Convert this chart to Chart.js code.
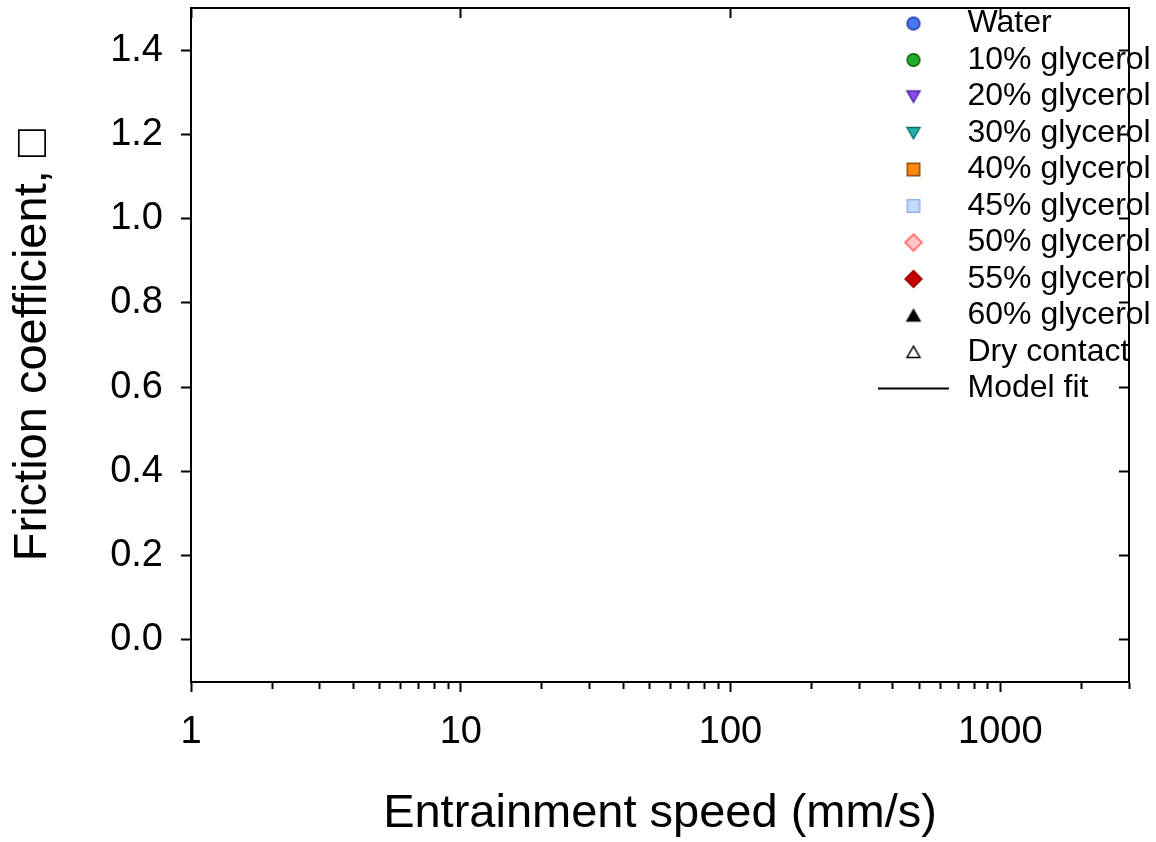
<!DOCTYPE html>
<html>
<head>
<meta charset="utf-8">
<script src="https://cdn.jsdelivr.net/npm/chart.js@4"></script>
<style>
  html, body { margin: 0; padding: 0; background: #fff; }
  #wrap { width: 1156px; height: 842px; }
</style>
</head>
<body>
<div id="wrap"><canvas id="frictionChart"></canvas></div>
<script>
// series shown in the legend (no measured points are plotted in this figure)
var seriesNames = ['Water', '10% glycerol', '20% glycerol', '30% glycerol', '40% glycerol',
  '45% glycerol', '50% glycerol', '55% glycerol', '60% glycerol', 'Dry contact', 'Model fit'];
var waterData = [];
var gly10Data = [];
var gly20Data = [];
var gly30Data = [];
var gly40Data = [];
var gly45Data = [];
var gly50Data = [];
var gly55Data = [];
var gly60Data = [];
var dryData = [];
var modelFitData = [];

// axis ticks
var xMajorTicks = [1, 10, 100, 1000];
var xMinorTicks = [2, 3, 4, 5, 6, 7, 8, 9, 20, 30, 40, 50, 60, 70, 80, 90,
  200, 300, 400, 500, 600, 700, 800, 900, 2000, 3000];
var yTicks = [0, 0.2, 0.4, 0.6, 0.8, 1.0, 1.2, 1.4];

// marker look per series
var markerShapes = ['circle', 'circle', 'triDown', 'triDown', 'square', 'square', 'diamond', 'diamond', 'triUp', 'triUp', 'line'];
var markerFills = ['#4a78f2', '#1fae2a', '#8a4cf0', '#1fb2ae', '#ff8a10', '#c2dcff', '#ffc4c4', '#c40000', '#000000', '#ffffff', '#000000'];
var markerEdges = ['#1c33a8', '#0b5a12', '#4a1f9e', '#0d6d6a', '#8a4a14', '#8fb2f0', '#ff5a5a', '#9a0000', '#000000', '#000000', '#000000'];

function makeMarker(shape, fill, edge) {
  var c = document.createElement('canvas');
  if (shape === 'line') { c.width = 71; c.height = 4; } else { c.width = 20; c.height = 20; }
  var g = c.getContext('2d');
  g.fillStyle = fill;
  g.strokeStyle = edge;
  g.lineWidth = 1.5;
  g.beginPath();
  if (shape === 'circle') {
    g.arc(10, 10, 6.3, 0, Math.PI * 2);
  } else if (shape === 'square') {
    g.rect(3.8, 3.8, 12.4, 12.4);
  } else if (shape === 'triDown') {
    g.moveTo(3.5, 4.5); g.lineTo(16.5, 4.5); g.lineTo(10, 15.8); g.closePath();
  } else if (shape === 'triUp') {
    g.moveTo(3.5, 15.5); g.lineTo(16.5, 15.5); g.lineTo(10, 4.2); g.closePath();
  } else if (shape === 'diamond') {
    g.moveTo(10, 1.6); g.lineTo(18.4, 10); g.lineTo(10, 18.4); g.lineTo(1.6, 10); g.closePath();
  } else if (shape === 'line') {
    g.lineWidth = 2;
    g.moveTo(0, 2); g.lineTo(71, 2);
    g.stroke();
    return c;
  }
  g.fill();
  g.stroke();
  return c;
}

var allData = [waterData, gly10Data, gly20Data, gly30Data, gly40Data, gly45Data,
  gly50Data, gly55Data, gly60Data, dryData, modelFitData];

var datasets = seriesNames.map(function (name, i) {
  return {
    label: name,
    data: allData[i],
    type: markerShapes[i] === 'line' ? 'line' : 'scatter',
    showLine: markerShapes[i] === 'line',
    borderColor: markerEdges[i],
    backgroundColor: markerFills[i],
    pointStyle: makeMarker(markerShapes[i], markerFills[i], markerEdges[i]),
  };
});

var FONT = "'Liberation Sans', Arial, sans-serif";

// put the legend inside the plot, top right
var legendInside = {
  id: 'legendInside',
  afterLayout: function (chart) {
    var lg = chart.legend, a = chart.chartArea;
    if (!lg) return;
    var w = lg.width, h = lg.height;
    lg.left = a.right - 258;
    lg.top = a.top - 5;
    lg.right = lg.left + w;
    lg.bottom = lg.top + h;
  },
};

var isMajor = function (v) { return xMajorTicks.indexOf(v) >= 0; };

new Chart(document.getElementById('frictionChart'), {
  type: 'scatter',
  data: { datasets: datasets },
  options: {
    responsive: true,
    maintainAspectRatio: false,
    animation: false,
    layout: { padding: { top: 8, right: 27, left: 0, bottom: 0 } },
    plugins: {
      tooltip: { enabled: false },
      legend: {
        position: 'chartArea',
        align: 'start',
        labels: {
          usePointStyle: true,
          pointStyleWidth: 76,
          boxHeight: 20,
          padding: 4.5,
          color: '#000',
          font: { family: FONT, size: 32 },
          generateLabels: function (chart) {
            return chart.data.datasets.map(function (ds, i) {
              return {
                text: ds.label,
                pointStyle: ds.pointStyle,
                fillStyle: 'rgba(0,0,0,0)',
                strokeStyle: 'rgba(0,0,0,0)',
                lineWidth: 0,
                hidden: false,
                datasetIndex: i,
                fontColor: '#000',
              };
            });
          },
        },
      },
    },
    scales: {
      x: {
        type: 'logarithmic',
        position: 'bottom',
        min: 1,
        max: 3000,
        afterBuildTicks: function (s) {
          s.ticks = xMajorTicks.concat(xMinorTicks).sort(function (a, b) { return a - b; })
            .map(function (v) { return { value: v, major: isMajor(v) }; });
        },
        afterFit: function (s) { s.height = 160; s.paddingLeft = 0; s.paddingRight = 0; },
        ticks: {
          autoSkip: false,
          maxRotation: 0,
          padding: 18,
          color: '#000',
          font: { family: FONT, size: 38 },
          callback: function (v) { return isMajor(v) ? String(v) : ''; },
        },
        grid: {
          drawOnChartArea: false,
          tickLength: 10,
          tickWidth: 2,
          tickColor: '#000',
          tickBorderDash: function (ctx) { return ctx.tick && isMajor(ctx.tick.value) ? [] : [6, 40]; },
        },
        border: { color: '#000', width: 2 },
        title: {
          display: true,
          text: 'Entrainment speed (mm/s)',
          color: '#000',
          font: { family: FONT, size: 47 },
          padding: { top: 0, bottom: 0 },
        },
      },
      x2: {
        type: 'logarithmic',
        position: 'top',
        display: true,
        min: 1,
        max: 3000,
        afterBuildTicks: function (s) { s.ticks = xMajorTicks.map(function (v) { return { value: v }; }); },
        afterFit: function (s) { s.height = 0; s.paddingLeft = 0; s.paddingRight = 0; },
        ticks: { display: false },
        grid: { drawOnChartArea: false, tickLength: -10, tickWidth: 2, tickColor: '#000' },
        border: { color: '#000', width: 2 },
      },
      y: {
        type: 'linear',
        position: 'left',
        min: -0.1,
        max: 1.5,
        afterBuildTicks: function (s) { s.ticks = yTicks.map(function (v) { return { value: v }; }); },
        afterFit: function (s) { s.width = 191; s.paddingTop = 0; s.paddingBottom = 0; },
        ticks: {
          padding: 18,
          color: '#000',
          font: { family: FONT, size: 38 },
          callback: function (v) { return Number(v).toFixed(1); },
        },
        grid: { drawOnChartArea: false, tickLength: 10, tickWidth: 2, tickColor: '#000' },
        border: { color: '#000', width: 2 },
        title: {
          display: true,
          text: 'Friction coefficient, \u25A1',
          color: '#000',
          font: { family: FONT, size: 47 },
          padding: { top: 5, bottom: 0 },
        },
      },
      y2: {
        type: 'linear',
        position: 'right',
        display: true,
        min: -0.1,
        max: 1.5,
        afterBuildTicks: function (s) { s.ticks = yTicks.map(function (v) { return { value: v }; }); },
        afterFit: function (s) { s.width = 0; s.paddingTop = 0; s.paddingBottom = 0; },
        ticks: { display: false },
        grid: { drawOnChartArea: false, tickLength: -10, tickWidth: 2, tickColor: '#000' },
        border: { color: '#000', width: 2 },
      },
    },
  },
  plugins: [legendInside],
});
</script>
</body>
</html>
